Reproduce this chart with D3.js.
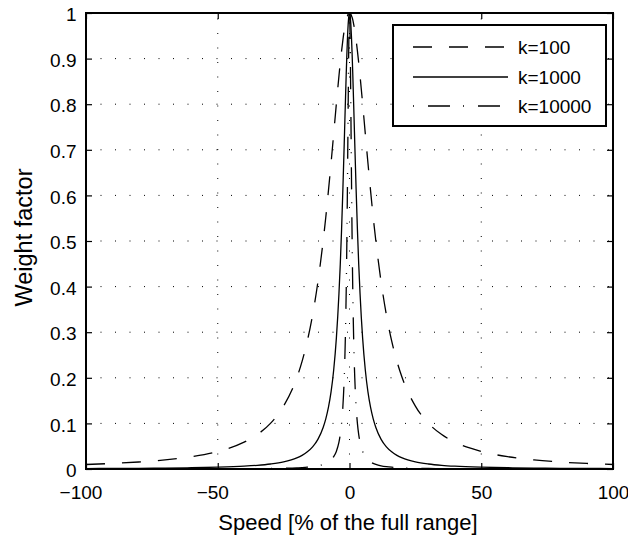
<!DOCTYPE html>
<html>
<head>
<meta charset="utf-8">
<script src="https://cdn.jsdelivr.net/npm/d3@7"></script>
<style>
  body { margin: 0; background: #fff; }
  svg { display: block; font-family: "Liberation Sans", Arial, sans-serif; }
</style>
</head>
<body>
<svg></svg>
<script>
var width = 628,
    height = 539;

// speed values (% of full range)
var speed = [-100, -90, -80, -70, -60, -50, -40, -35, -30, -25, -20, -18, -16, -14, -12, -10,
  -9, -8, -7, -6, -5, -4, -3.5, -3, -2.5, -2, -1.75, -1.5, -1.25, -1, -0.75, -0.5, -0.25,
  0,
  0.25, 0.5, 0.75, 1, 1.25, 1.5, 1.75, 2, 2.5, 3, 3.5, 4, 5, 6, 7, 8, 9,
  10, 12, 14, 16, 18, 20, 25, 30, 35, 40, 50, 60, 70, 80, 90, 100];

// weight factor
var w100 = [0.0099, 0.0122, 0.0154, 0.020, 0.027, 0.0385, 0.0588, 0.0755, 0.100, 0.138, 0.200, 0.236, 0.281, 0.338, 0.410, 0.500,
  0.552, 0.610, 0.671, 0.735, 0.800, 0.862, 0.891, 0.917, 0.941, 0.962, 0.970, 0.978, 0.985, 0.990, 0.994, 0.9975, 0.9994,
  1,
  0.9994, 0.9975, 0.994, 0.990, 0.985, 0.978, 0.970, 0.962, 0.941, 0.917, 0.891, 0.862, 0.800, 0.735, 0.671, 0.610, 0.552,
  0.500, 0.410, 0.338, 0.281, 0.236, 0.200, 0.138, 0.100, 0.0755, 0.0588, 0.0385, 0.027, 0.020, 0.0154, 0.0122, 0.0099];

var w1000 = [0.0010, 0.00123, 0.00156, 0.00204, 0.00277, 0.00398, 0.0062, 0.0081, 0.011, 0.0157, 0.0244, 0.030, 0.0376, 0.0485, 0.065, 0.091,
  0.110, 0.135, 0.169, 0.217, 0.286, 0.385, 0.449, 0.526, 0.615, 0.714, 0.766, 0.816, 0.865, 0.909, 0.947, 0.976, 0.994,
  1,
  0.994, 0.976, 0.947, 0.909, 0.865, 0.816, 0.766, 0.714, 0.615, 0.526, 0.449, 0.385, 0.286, 0.217, 0.169, 0.135, 0.110,
  0.091, 0.065, 0.0485, 0.0376, 0.030, 0.0244, 0.0157, 0.011, 0.0081, 0.0062, 0.00398, 0.00277, 0.00204, 0.00156, 0.00123, 0.0010];

var w10000 = [0.0001, 0.00012, 0.00016, 0.0002, 0.00028, 0.0004, 0.0006, 0.0008, 0.0011, 0.0016, 0.0025, 0.0031, 0.0039, 0.0051, 0.0069, 0.0099,
  0.0122, 0.0154, 0.020, 0.027, 0.0385, 0.0588, 0.0755, 0.100, 0.138, 0.200, 0.246, 0.308, 0.390, 0.500, 0.640, 0.800, 0.941,
  1,
  0.941, 0.800, 0.640, 0.500, 0.390, 0.308, 0.246, 0.200, 0.138, 0.100, 0.0755, 0.0588, 0.0385, 0.027, 0.020, 0.0154, 0.0122,
  0.0099, 0.0069, 0.0051, 0.0039, 0.0031, 0.0025, 0.0016, 0.0011, 0.0008, 0.0006, 0.0004, 0.00028, 0.0002, 0.00016, 0.00012, 0.0001];

var seriesNames = ["k=100", "k=1000", "k=10000"];
var seriesDash = ["19,17", null, "22,13,1,14"];
var seriesValues = [w100, w1000, w10000];

var xTicks = [-100, -50, 0, 50, 100];
var xTickLabels = ["\u2212100", "\u221250", "0", "50", "100"];
var yTicks = [0, 0.1, 0.2, 0.3, 0.4, 0.5, 0.6, 0.7, 0.8, 0.9, 1];

var margin = {left: 86, top: 13, right: 15, bottom: 70};
var pw = 613 - margin.left,
    ph = 469 - margin.top;

var svg = d3.select("svg")
    .attr("width", width)
    .attr("height", height);

var g = svg.append("g")
    .attr("transform", "translate(" + margin.left + "," + margin.top + ")");

var x = d3.scaleLinear().domain([-100, 100]).range([0, pw]);
var y = d3.scaleLinear().domain([0, 1]).range([ph, 0]);

//grid (dotted)
g.selectAll(".hgrid")
    .data(yTicks.slice(1, -1))
  .enter().append("line")
    .attr("x1", 0).attr("x2", pw)
    .attr("y1", function(d){ return y(d); })
    .attr("y2", function(d){ return y(d); })
    .attr("stroke", "#000")
    .attr("stroke-width", 1)
    .attr("stroke-dasharray", "1,13.5");

g.selectAll(".vgrid")
    .data(xTicks.slice(1, -1))
  .enter().append("line")
    .attr("x1", function(d){ return x(d); })
    .attr("x2", function(d){ return x(d); })
    .attr("y1", ph).attr("y2", 0)
    .attr("stroke", "#000")
    .attr("stroke-width", 1)
    .attr("stroke-dasharray", "1,13.5");

//curves
var line = d3.line()
    .x(function(d){ return x(d[0]); })
    .y(function(d){ return y(d[1]); })
    .curve(d3.curveMonotoneX);

seriesValues.forEach(function(vals, i){
  g.append("path")
    .datum(speed.map(function(s, j){ return [s, vals[j]]; }))
    .attr("d", line)
    .attr("fill", "none")
    .attr("stroke", "#000")
    .attr("stroke-width", 1.3)
    .attr("stroke-dasharray", seriesDash[i]);
});

//axes (ticks inside, box)
var tickLen = 6;
var xAxis = g.append("g")
    .attr("transform", "translate(0," + ph + ")")
    .call(d3.axisBottom(x).tickValues(xTicks).tickSize(-tickLen).tickPadding(16.5)
      .tickFormat(function(d, i){ return xTickLabels[i]; }));
g.append("g")
    .call(d3.axisTop(x).tickValues(xTicks).tickSize(-tickLen).tickFormat(""));
var yAxis = g.append("g")
    .call(d3.axisLeft(y).tickValues(yTicks).tickSize(-tickLen).tickPadding(9.5)
      .tickFormat(function(d){ return d3.format("")(+d.toFixed(1)); }));
g.append("g")
    .attr("transform", "translate(" + pw + ",0)")
    .call(d3.axisRight(y).tickValues(yTicks).tickSize(-tickLen).tickFormat(""));

g.selectAll(".domain").remove();
g.selectAll(".tick line").attr("stroke", "#000").attr("stroke-width", 1.2);
g.selectAll(".tick text")
    .attr("fill", "#000")
    .style("font-size", "19px")
    .style("font-family", "'Liberation Sans', Arial, sans-serif");
yAxis.selectAll(".tick text").attr("dy", "0.4em");
// keep the digits centred on the tick, the minus sign hangs to the left
xAxis.selectAll(".tick text")
    .attr("dx", function(d){ return d < 0 ? -5.5 : 0; });

g.append("rect")
    .attr("width", pw).attr("height", ph)
    .attr("fill", "none")
    .attr("stroke", "#000")
    .attr("stroke-width", 2);

//axis labels
svg.append("text")
    .attr("x", 348)
    .attr("y", 530)
    .attr("text-anchor", "middle")
    .style("font-size", "22px")
    .text("Speed [% of the full range]");

svg.append("text")
    .attr("transform", "translate(31.5,237.5) rotate(-90)")
    .attr("text-anchor", "middle")
    .style("font-size", "23.5px")
    .text("Weight factor");

//legend
var legend = svg.append("g").attr("transform", "translate(393,25)");
legend.append("rect")
    .attr("width", 213).attr("height", 101)
    .attr("fill", "#fff")
    .attr("stroke", "#000")
    .attr("stroke-width", 2);

var rowY = [22, 52, 81];
seriesNames.forEach(function(name, i){
  legend.append("line")
    .attr("x1", 20).attr("x2", 115)
    .attr("y1", rowY[i]).attr("y2", rowY[i])
    .attr("stroke", "#000")
    .attr("stroke-width", 1.3)
    .attr("stroke-dasharray", i == 2 ? "1,14,22,13,1,14,22,13,1" : seriesDash[i]);
  legend.append("text")
    .attr("x", 125)
    .attr("y", rowY[i])
    .attr("dy", "0.35em")
    .style("font-size", "19px")
    .text(name);
});
</script>
</body>
</html>
